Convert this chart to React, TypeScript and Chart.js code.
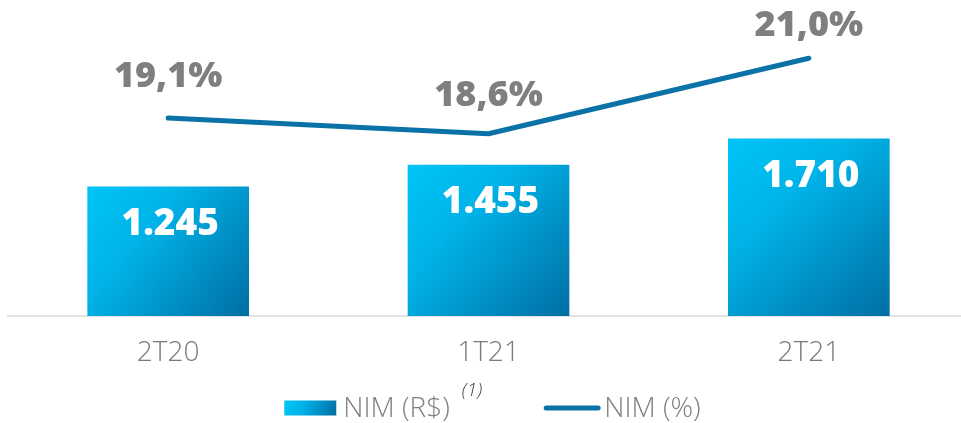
import React, { useEffect, useRef } from "react";
import { Chart, registerables } from "chart.js";

Chart.register(...registerables);

const categories = ["2T20", "1T21", "2T21"];
const nimValues = [1245, 1455, 1710];
const nimPercent = [19.1, 18.6, 21.0];
const barLegendLabel = "NIM (R$)";
const barLegendNote = "(1)";
const lineLegendLabel = "NIM (%)";

// label vertical offsets (style only)
const lineLabelOffsets = [-31, -28, -22];

const LINE_COLOR = "#0a72a7";
const GRAY = "#7f7f7f";

function fmtThousands(v: number): string {
  const s = String(Math.round(v));
  return s.replace(/\B(?=(\d{3})+(?!\d))/g, ".");
}
function fmtPct(v: number): string {
  return v.toFixed(1).replace(".", ",") + "%";
}

function barGradient(c: CanvasRenderingContext2D, x0: number, y0: number, x1: number, y1: number) {
  const g = c.createLinearGradient(x0, y0, x1, y1);
  g.addColorStop(0, "#00c4f7");
  g.addColorStop(0.35, "#00b3e8");
  g.addColorStop(1, "#006ea4");
  return g;
}

const labelsPlugin = {
  id: "customLabels",
  afterDatasetsDraw(chart: any) {
    const c: CanvasRenderingContext2D = chart.ctx;
    c.save();
    const barMeta = chart.getDatasetMeta(0);
    c.fillStyle = "#ffffff";
    c.font = "800 37px 'Open Sans'";
    c.textAlign = "center";
    c.textBaseline = "alphabetic";
    barMeta.data.forEach((el: any, i: number) => {
      c.fillText(fmtThousands(nimValues[i]), el.x + 2, el.y + 48);
    });
    const lineMeta = chart.getDatasetMeta(1);
    c.fillStyle = GRAY;
    c.font = "800 36px 'Open Sans'";
    lineMeta.data.forEach((el: any, i: number) => {
      c.fillText(fmtPct(nimPercent[i]), el.x, el.y + lineLabelOffsets[i]);
    });
    c.restore();
  },
  afterDraw(chart: any) {
    const c: CanvasRenderingContext2D = chart.ctx;
    const area = chart.chartArea;
    c.save();
    const textFont = "300 28px 'Open Sans'";
    const noteFont = "italic 300 19px 'Open Sans'";
    c.font = textFont;
    const w1 = c.measureText(barLegendLabel).width;
    const w2 = c.measureText(lineLegendLabel).width;
    c.font = noteFont;
    const wn = c.measureText(barLegendNote).width;
    const boxW = 52, boxH = 15, lineW = 56;
    const total = boxW + 7 + w1 + 12 + wn + 62 + lineW + 4 + w2;
    const cx = (area.left + area.right) / 2 + 4;
    let x = cx - total / 2;
    const yMid = 408;
    c.fillStyle = barGradient(c, x, yMid - boxH / 2, x + boxW, yMid + boxH / 2);
    c.fillRect(x, yMid - boxH / 2, boxW, boxH);
    x += boxW + 7;
    c.fillStyle = GRAY;
    c.font = textFont;
    c.textAlign = "left";
    c.textBaseline = "middle";
    c.fillText(barLegendLabel, x, yMid + 1);
    x += w1 + 12;
    c.font = noteFont;
    c.fillStyle = "#404040";
    c.fillText(barLegendNote, x, yMid - 17);
    x += wn + 62;
    c.strokeStyle = LINE_COLOR;
    c.lineWidth = 5;
    c.lineCap = "round";
    c.beginPath();
    c.moveTo(x + 2, yMid);
    c.lineTo(x + lineW - 2, yMid);
    c.stroke();
    x += lineW + 4;
    c.fillStyle = GRAY;
    c.font = textFont;
    c.fillText(lineLegendLabel, x, yMid + 1);
    c.restore();
  },
};

export default function App() {
  const ref = useRef<HTMLCanvasElement | null>(null);
  useEffect(() => {
    if (!ref.current) return;
    const chart = new Chart(ref.current, {
      data: {
        labels: categories,
        datasets: [
          {
            type: "bar",
            label: barLegendLabel,
            data: nimValues,
            yAxisID: "y",
            order: 2,
            barThickness: 161,
            backgroundColor: (ctx: any) => {
              const chart = ctx.chart;
              const sx = chart.scales && chart.scales.x;
              const sy = chart.scales && chart.scales.y;
              if (!sx || !sy || ctx.type !== "data") return "#00b3e8";
              const x = sx.getPixelForValue(ctx.dataIndex);
              const top = sy.getPixelForValue(ctx.raw);
              const bottom = sy.getPixelForValue(0);
              if (![x, top, bottom].every((v) => Number.isFinite(v))) return "#00b3e8";
              return barGradient(chart.ctx, x - 80.5, top, x + 80.5, bottom);
            },
          } as any,
          {
            type: "line",
            label: lineLegendLabel,
            data: nimPercent,
            yAxisID: "y1",
            order: 1,
            borderColor: LINE_COLOR,
            borderWidth: 5,
            borderCapStyle: "round",
            borderJoinStyle: "round",
            pointRadius: 0,
            tension: 0,
          } as any,
        ],
      },
      options: {
        animation: false,
        responsive: false,
        devicePixelRatio: 1,
        layout: { padding: { top: 5, left: 8, right: 8, bottom: 0 } },
        plugins: { legend: { display: false }, tooltip: { enabled: false } },
        scales: {
          x: {
            offset: true,
            grid: { display: false, drawTicks: false },
            border: { display: true, color: "#e4e4e4", width: 2 },
            ticks: {
              padding: 20,
              color: "#7a7a7a",
              font: { family: "'Open Sans'", size: 28, weight: "300" as any },
            },
            afterFit: (scale: any) => {
              scale.height = 107;
            },
          },
          y: { display: false, min: 0, max: 3000 },
          y1: { display: false, min: 12.81, max: 22.69 },
        },
      } as any,
      plugins: [labelsPlugin],
    });
    return () => chart.destroy();
  }, []);
  return (
    <div style={{ position: "absolute", left: 0, top: 0, width: 961, height: 423, overflow: "hidden", background: "#fff" }}>
      <canvas ref={ref} width={977} height={423} style={{ width: 977, height: 423, display: "block" }} />
    </div>
  );
}
